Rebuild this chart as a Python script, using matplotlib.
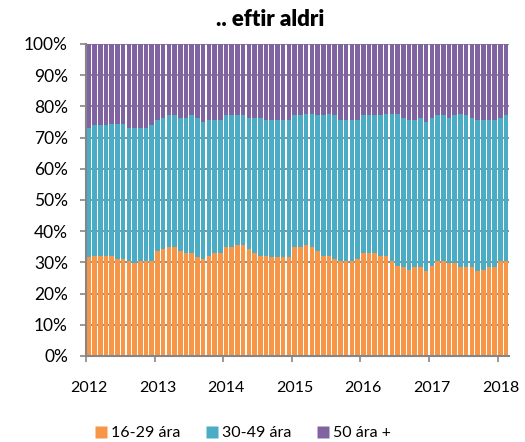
import matplotlib
matplotlib.use("Agg")
import matplotlib.pyplot as plt
import numpy as np
from matplotlib.lines import Line2D

plt.rcParams['font.family'] = ['Lato', 'DejaVu Sans']

years = ["2012", "2013", "2014", "2015", "2016", "2017", "2018"]
series_names = ["16-29 ára", "30-49 ára", "50 ára +"]
colors = ["#F79646", "#4BACC6", "#8064A2"]

age_16_29 = [31.6, 32.2, 32.2, 32.2, 32.2, 31.0, 31.0, 30.3, 29.7, 30.3, 30.3, 30.3,
             33.5, 34.2, 34.8, 34.8, 33.5, 32.9, 32.9, 31.6, 31.0, 32.2, 32.9, 32.9,
             34.8, 34.8, 35.5, 35.5, 34.2, 32.9, 32.2, 32.2, 31.6, 31.6, 31.6, 31.6,
             34.8, 34.8, 35.5, 34.8, 33.5, 32.2, 32.2, 31.0, 30.3, 30.3, 30.3, 31.0,
             32.9, 32.9, 32.9, 32.2, 32.2, 30.3, 29.0, 28.4, 27.7, 28.4, 28.4, 27.1,
             29.0, 30.3, 30.3, 29.7, 29.7, 28.4, 28.4, 28.4, 27.1, 27.7, 28.4, 28.4,
             30.3, 30.3]
age_30_49 = [41.6, 41.7, 41.7, 41.7, 42.3, 43.5, 43.5, 42.9, 43.5, 42.9, 42.9, 43.6,
             42.3, 42.2, 42.3, 42.3, 42.9, 43.5, 44.2, 44.8, 44.1, 43.6, 42.9, 42.9,
             42.3, 42.3, 41.6, 41.6, 42.2, 43.5, 44.2, 43.6, 44.2, 44.2, 44.2, 44.2,
             42.3, 42.3, 42.2, 42.9, 43.6, 44.9, 45.5, 46.1, 45.5, 45.5, 45.5, 44.8,
             44.2, 44.2, 44.2, 44.9, 45.5, 47.4, 48.7, 48.0, 48.1, 47.4, 48.0, 48.0,
             47.4, 46.8, 46.8, 46.7, 47.4, 49.3, 48.7, 48.0, 48.7, 48.1, 47.4, 47.4,
             46.1, 46.8]
age_50_plus = [26.8, 26.1, 26.1, 26.1, 25.5, 25.5, 25.5, 26.8, 26.8, 26.8, 26.8, 26.1,
               24.2, 23.6, 22.9, 22.9, 23.6, 23.6, 22.9, 23.6, 24.9, 24.2, 24.2, 24.2,
               22.9, 22.9, 22.9, 22.9, 23.6, 23.6, 23.6, 24.2, 24.2, 24.2, 24.2, 24.2,
               22.9, 22.9, 22.3, 22.3, 22.9, 22.9, 22.3, 22.9, 24.2, 24.2, 24.2, 24.2,
               22.9, 22.9, 22.9, 22.9, 22.3, 22.3, 22.3, 23.6, 24.2, 24.2, 23.6, 24.9,
               23.6, 22.9, 22.9, 23.6, 22.9, 22.3, 22.9, 23.6, 24.2, 24.2, 24.2, 24.2,
               23.6, 22.9]

data = np.array([age_16_29, age_30_49, age_50_plus], dtype=float)
data = data / data.sum(axis=0) * 100.0
n = data.shape[1]
x = np.arange(n)

fig = plt.figure(figsize=(5.25, 4.42), dpi=100)
ax = fig.add_axes([86/525, 1-356/442, (509-86)/525, (356-44)/442])

bottom = np.zeros(n)
for vals, c in zip(data, colors):
    ax.bar(x, vals, bottom=bottom, width=0.8, color=c, edgecolor='none', zorder=2)
    bottom += vals

grid_c = "#868686"
ax.set_ylim(0, 100)
ax.set_xlim(-0.5, n - 0.5)
ax.set_yticks(np.arange(0, 101, 10))
ax.set_yticklabels([f"{v}%" for v in range(0, 101, 10)], fontsize=12.5)
ax.yaxis.grid(True, color=grid_c, linewidth=1.3, zorder=0)
ax.set_axisbelow(True)
ax.tick_params(axis='y', length=4, width=1.2, color=grid_c, pad=9, labelcolor='black')

# year labels at January bars, tick marks at year boundaries
ax.set_xticks(np.arange(0, n, 12))
ax.set_xticklabels(years, fontsize=11.5)
ax.tick_params(axis='x', which='major', length=0, pad=18)
ax.set_xticks(np.arange(0, n, 12) - 0.5, minor=True)
ax.tick_params(axis='x', which='minor', length=4, width=1.2, color=grid_c)

for s in ['top', 'right']:
    ax.spines[s].set_visible(False)
for s in ['left', 'bottom']:
    ax.spines[s].set_color(grid_c)
    ax.spines[s].set_linewidth(1.5)
    ax.spines[s].set_zorder(3)

fig.text(270/525, 1-19/442, ".. eftir aldri", ha='center', va='center',
         fontsize=16, fontweight='heavy')

handles = [Line2D([0], [0], marker='s', linestyle='none', markersize=8.5,
                  markerfacecolor=c, markeredgecolor='none') for c in colors]
fig.legend(handles, series_names, loc='center', bbox_to_anchor=(243/525, 1-433/442),
           ncol=3, frameon=False, fontsize=11.5, handlelength=0.7, handletextpad=0.3,
           columnspacing=1.6, borderpad=0)

fig.savefig("out.png", dpi=100)
